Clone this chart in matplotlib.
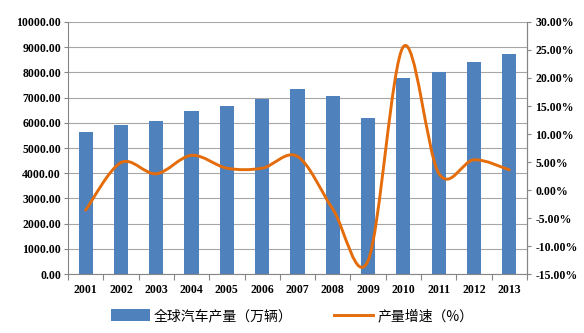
import numpy as np
import matplotlib
matplotlib.use("Agg")
import matplotlib.pyplot as plt
from matplotlib.path import Path
from matplotlib.patches import PathPatch, Patch
from matplotlib.lines import Line2D

plt.rcParams['font.family'] = ['Liberation Serif', 'Noto Sans CJK SC', 'DejaVu Sans']

years = ['2001', '2002', '2003', '2004', '2005', '2006', '2007',
         '2008', '2009', '2010', '2011', '2012', '2013']
# 全球汽车产量（万辆）
output = [5630, 5899, 6065, 6450, 6678, 6926, 7327,
          7073, 6179, 7758, 7998, 8424, 8730]
# 产量增速（%）
growth = [-3.6, 4.9, 2.9, 6.2, 3.9, 3.9, 6.0,
          -3.4, -12.6, 25.6, 3.0, 5.4, 3.6]

bar_color = '#4F81BD'
line_color = '#E46C0A'
axis_gray = '#868686'
tick_size = 8.5

fig = plt.figure(figsize=(5.84, 3.33), dpi=100)
ax = fig.add_axes([0.1164, 0.177, 0.7860, 0.757])
x = np.arange(len(years))

ax.bar(x, output, width=0.4, color=bar_color, zorder=2)
ax.set_ylim(0, 10000)
ax.set_xlim(-0.5, len(years) - 0.5)
ax.set_yticks(np.arange(0, 10001, 1000))
ax.set_yticklabels([f'{v:.2f}' for v in np.arange(0, 10001, 1000)])
ax.yaxis.grid(True, color='#A6A6A6', linewidth=0.8, zorder=0)
ax.set_axisbelow(True)

# x 轴刻度画在类别边界上，标签放在类别中间
ax.set_xticks(np.arange(-0.5, len(years), 1.0))
ax.set_xticklabels([])
ax.set_xticks(x, minor=True)
ax.set_xticklabels(years, minor=True)
ax.tick_params(axis='x', which='minor', length=0, pad=7)
ax.tick_params(axis='x', which='major', length=4, color=axis_gray, direction='out')
ax.tick_params(axis='y', length=3, color=axis_gray, direction='out', pad=2)

for lab in ax.get_xticklabels(minor=True) + ax.get_yticklabels():
    lab.set_fontsize(tick_size)
    lab.set_fontweight('bold')

ax.spines['top'].set_visible(False)
for side in ['left', 'right', 'bottom']:
    ax.spines[side].set_color(axis_gray)

ax2 = ax.twinx()
ax2.set_ylim(-15, 30)
ax2.set_yticks(np.arange(-15, 31, 5))
ax2.set_yticklabels([f'{v:.2f}%' for v in np.arange(-15, 31, 5)])
ax2.tick_params(axis='y', length=3, color=axis_gray, direction='out', pad=3)
for lab in ax2.get_yticklabels():
    lab.set_fontsize(tick_size)
    lab.set_fontweight('bold')
for side in ['top', 'left', 'bottom']:
    ax2.spines[side].set_visible(False)
ax2.spines['right'].set_color(axis_gray)

# 平滑折线：三次贝塞尔曲线
pts = np.column_stack([x, growth]).astype(float)
padded = np.vstack([pts[0], pts, pts[-1]])
verts = [tuple(pts[0])]
codes = [Path.MOVETO]
for i in range(len(pts) - 1):
    p0, p1, p2, p3 = padded[i], padded[i + 1], padded[i + 2], padded[i + 3]
    c1 = p1 + (p2 - p0) / 6.0
    c2 = p2 - (p3 - p1) / 6.0
    verts += [tuple(c1), tuple(c2), tuple(p2)]
    codes += [Path.CURVE4, Path.CURVE4, Path.CURVE4]
ax2.add_patch(PathPatch(Path(verts, codes), facecolor='none',
                        edgecolor=line_color, linewidth=2.1,
                        capstyle='round', joinstyle='round', zorder=3))

handles = [Patch(facecolor=bar_color, edgecolor='none'),
           Line2D([0], [0], color=line_color, linewidth=2.1)]
fig.legend(handles, ['全球汽车产量（万辆）', '产量增速（%）'],
           loc='center', bbox_to_anchor=(0.5, 0.051), ncol=2,
           frameon=False, handlelength=2.8, handleheight=0.9,
           columnspacing=3.0, handletextpad=0.3,
           prop={'family': ['Noto Sans CJK SC'], 'size': 10})

fig.savefig('out.png', dpi=100)
